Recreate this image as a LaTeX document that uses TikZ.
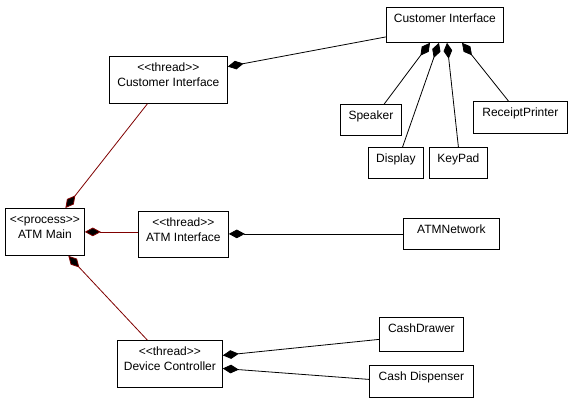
\documentclass[tikz,border=0pt]{standalone}
\usepackage{fontspec}
\setmainfont{Liberation Sans}[Ligatures=TeXOff]
\usetikzlibrary{arrows.meta}
\definecolor{linkred}{RGB}{128,0,0}

\begin{document}
\begin{tikzpicture}[x=0.75pt,y=-0.75pt,
	cls/.style={draw,fill=white,line width=0.6pt,anchor=north west,inner sep=0pt,align=center,
		font=\fontsize{9}{11.25}\selectfont,text height=11.25pt},
	two/.style={text height=22.5pt},
	comp/.style={line width=0.6pt,-{Diamond[length=12pt,width=6.5pt,fill=black]}},
	owner/.style={comp,draw=linkred}]
	\useasboundingbox[fill=white] (0,0) rectangle (574,403);

	\node[cls] (ci) at (386,7) [minimum width=87.75pt,text depth=15pt] {Customer Interface};
	\node[cls,two] (tci) at (109,56) [minimum width=88.5pt,text depth=12.75pt] {<<thread>>\\Customer Interface};
	\node[cls] (spk) at (340,104) [minimum width=45.75pt,text depth=12pt] {Speaker};
	\node[cls] (dsp) at (368,147) [minimum width=41.25pt,text depth=12pt] {Display};
	\node[cls] (kpd) at (429,147) [minimum width=43.5pt,text depth=12pt] {KeyPad};
	\node[cls] (rcp) at (473,101) [minimum width=70.5pt,text depth=12.75pt] {ReceiptPrinter};
	\node[cls,two] (main) at (5,208) [minimum width=59.25pt,text depth=12.75pt] {<<process>>\\ATM Main};
	\node[cls,two] (atmi) at (138,211) [minimum width=67.5pt,text depth=12pt] {<<thread>>\\ATM Interface};
	\node[cls] (net) at (403,218) [minimum width=72pt,text depth=12pt] {ATMNetwork};
	\node[cls,two] (dev) at (117,340) [minimum width=78.75pt,text depth=12.75pt] {<<thread>>\\Device Controller};
	\node[cls] (drw) at (379,317) [minimum width=63pt,text depth=14.25pt] {CashDrawer};
	\node[cls] (disp) at (369,365) [minimum width=78pt,text depth=12.75pt] {Cash Dispenser};

	% parts of the customer interface
	\draw[comp] ([yshift=-9pt]ci.west) -- ([yshift=10pt]tci.east);
	\draw[comp] ([xshift=10pt]spk.north) -- ([xshift=33pt]ci.south west);
	\draw[comp] ([xshift=5pt]dsp.north) -- ([xshift=39.75pt]ci.south west);
	\draw[comp] (kpd.north) -- ([xshift=45.75pt]ci.south west);
	\draw[comp] ([xshift=-9pt]rcp.north) -- ([xshift=57pt]ci.south west);

	% threads of the main process
	\draw[owner] ([xshift=-15.75pt]tci.south) -- ([xshift=15.4pt]main.north);
	\draw[owner] (atmi.west |- main.east) -- (main.east);
	\draw[owner] ([xshift=-17pt]dev.north) -- ([xshift=17.6pt]main.south);

	% devices and network
	\draw[comp] (net.west) -- (net.west -| atmi.east);
	\draw[comp] ([yshift=-3.75pt]drw.west) -- ([yshift=6.4pt]dev.east);
	\draw[comp] ([yshift=1.5pt]disp.west) -- ([yshift=-3.4pt]dev.east);
\end{tikzpicture}
\end{document}
